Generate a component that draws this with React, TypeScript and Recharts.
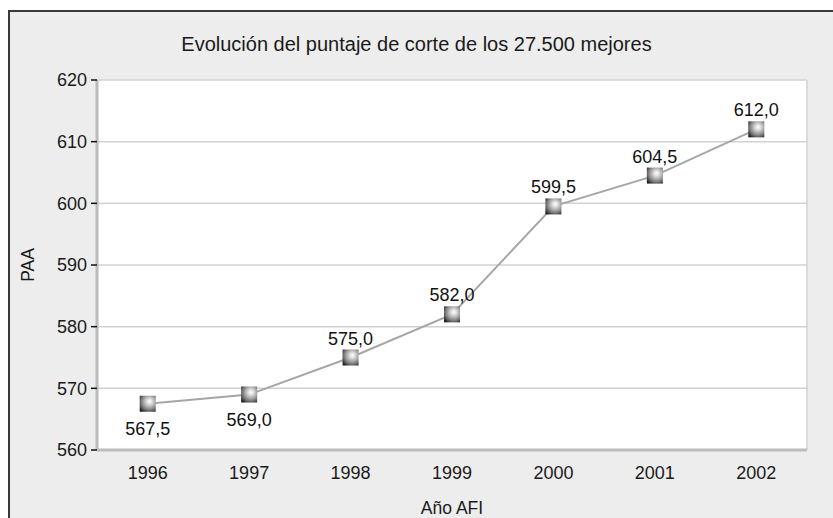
import { LineChart, Line, XAxis, YAxis, CartesianGrid, LabelList, ReferenceLine, Label } from "recharts";

const years = ["1996", "1997", "1998", "1999", "2000", "2001", "2002"];
const scores = [567.5, 569.0, 575.0, 582.0, 599.5, 604.5, 612.0];
const yTicks = [560, 570, 580, 590, 600, 610, 620];

const data = years.map((year, i) => ({ year, paa: scores[i] }));
const bounds = years.map((_, i) => i).concat(years.length);

const font = "'Liberation Sans', Arial, sans-serif";

function Marker(props: any) {
  const { cx, cy } = props;
  if (cx == null || cy == null) return null;
  return <rect x={cx - 8} y={cy - 8} width={16} height={16} fill="url(#ballGrad)" />;
}

function PointLabel(props: any) {
  const { x, y, value, index } = props;
  const below = index < 2;
  return (
    <text
      x={x}
      y={below ? y + 31 : y - 13}
      textAnchor="middle"
      fontSize={18}
      fill="#111"
      fontFamily={font}
    >
      {Number(value).toFixed(1).replace(".", ",")}
    </text>
  );
}

export default function App() {
  return (
    <div style={{ position: "fixed", left: 0, top: 0, width: 833, height: 518, background: "#fff", overflow: "hidden" }}>
      <div
        style={{
          position: "absolute",
          left: 8,
          top: 10,
          width: 900,
          height: 600,
          background: "#ededed",
          borderLeft: "2px solid #3a3a3a",
          borderTop: "2px solid #3a3a3a",
        }}
      />
      <div
        style={{
          position: "absolute",
          left: 0,
          top: 32,
          width: 833,
          textAlign: "center",
          fontFamily: font,
          fontSize: 20,
          lineHeight: "24px",
          color: "#1a1a1a",
        }}
      >
        Evolución del puntaje de corte de los 27.500 mejores
      </div>
      <div style={{ position: "absolute", left: 0, top: 0 }}>
        <LineChart width={833} height={518} data={data} margin={{ top: 80, right: 26, bottom: 0, left: 0 }}>
          <defs>
            <radialGradient id="ballGrad" cx="0.6" cy="0.4" r="0.75" fx="0.62" fy="0.35">
              <stop offset="0%" stopColor="#ffffff" />
              <stop offset="20%" stopColor="#e2e2e2" />
              <stop offset="45%" stopColor="#b0b0b0" />
              <stop offset="70%" stopColor="#777" />
              <stop offset="100%" stopColor="#1a1a1a" />
            </radialGradient>
          </defs>
          <CartesianGrid xAxisId="num" stroke="#d2d2d2" strokeWidth={1.5} fill="#fff" />
          <XAxis
            xAxisId="num"
            type="number"
            domain={[0, years.length]}
            ticks={bounds}
            allowDataOverflow
            tick={false}
            tickLine={{ stroke: "#111", strokeWidth: 1.5 }}
            tickSize={6}
            axisLine={false}
            height={0}
          />
          <XAxis
            xAxisId="cat"
            dataKey="year"
            scale="band"
            tickLine={false}
            axisLine={{ stroke: "#bcbcbc", strokeWidth: 3 }}
            tick={{ fontSize: 18, fill: "#1a1a1a", fontFamily: font }}
            tickMargin={10}
            height={68}
          >
            <Label value="Año AFI" position="insideBottom" offset={4} fontSize={17.5} fill="#1a1a1a" fontFamily={font} />
          </XAxis>
          <YAxis
            domain={[560, 620]}
            ticks={yTicks}
            width={97}
            tickSize={6}
            tickMargin={4}
            tickLine={{ stroke: "#111", strokeWidth: 1.5 }}
            axisLine={{ stroke: "#bcbcbc", strokeWidth: 3 }}
            tick={{ fontSize: 18, fill: "#1a1a1a", fontFamily: font }}
          >
            <Label
              content={({ viewBox }: any) => {
                const cy = viewBox.y + viewBox.height / 2;
                return (
                  <text
                    x={34}
                    y={cy}
                    transform={`rotate(-90, 34, ${cy})`}
                    textAnchor="middle"
                    fontSize={17.5}
                    fill="#1a1a1a"
                    fontFamily={font}
                  >
                    PAA
                  </text>
                );
              }}
            />
          </YAxis>
          <ReferenceLine xAxisId="num" x={years.length} stroke="#bcbcbc" strokeWidth={3} />
          <Line
            xAxisId="cat"
            dataKey="paa"
            stroke="#a6a6a6"
            strokeWidth={2}
            dot={<Marker />}
            activeDot={false}
            isAnimationActive={false}
          >
            <LabelList dataKey="paa" content={<PointLabel />} />
          </Line>
        </LineChart>
      </div>
    </div>
  );
}
